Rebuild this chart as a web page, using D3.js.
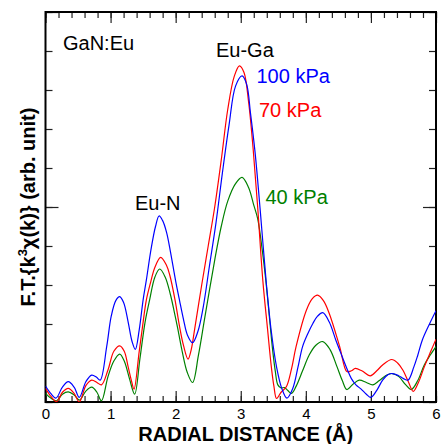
<!DOCTYPE html>
<head>
    <meta charset="utf-8">
    <style> body { margin: 0; background: #fff; } text { font-family: "Liberation Sans", Arial, sans-serif; } </style>
    <script src="https://d3js.org/d3.v7.min.js"></script>
</head>
<body>
<div id="chart"></div>
<script>

// radial distance (Å), F.T. magnitude (arb. unit)
var kpa100 = [[0,0.41],[0.08,0.22],[0.16,0.10],[0.26,0.38],[0.35,0.52],[0.44,0.38],[0.52,0.12],[0.62,0.52],[0.71,0.69],[0.78,0.64],[0.84,0.56],
    [0.94,1.42],[1.01,2.2],[1.08,2.6],[1.14,2.70],[1.20,2.55],[1.27,2.05],[1.33,1.55],[1.38,1.35],[1.44,1.85],[1.50,2.62],[1.55,3.13],[1.62,3.9],
    [1.69,4.5],[1.745,4.77],[1.80,4.65],[1.86,4.35],[1.92,3.85],[2.00,3.1],[2.06,2.6],[2.12,2.12],[2.18,1.72],[2.26,1.52],[2.34,1.8],[2.42,2.4],[2.52,3.5],
    [2.62,4.6],[2.72,5.9],[2.82,7.1],[2.92,8.1],[3.02,8.36],[3.09,8.15],[3.15,7.4],[3.22,6.4],[3.30,4.9],[3.39,3.1],[3.47,1.8],[3.55,0.9],
    [3.63,0.35],[3.71,0.10],[3.80,0.35],[3.88,0.9],[3.95,1.42],[4.03,1.75],[4.11,2.02],[4.18,2.2],[4.26,2.29],[4.36,2.05],[4.46,1.59],
    [4.55,1.2],[4.63,0.86],[4.70,0.6],[4.77,0.44],[4.85,0.33],[4.93,0.2],[5.00,0.12],[5.09,0.3],[5.18,0.56],[5.26,0.7],[5.33,0.73],
    [5.42,0.68],[5.50,0.6],[5.57,0.56],[5.66,0.9],[5.72,1.2],[5.79,1.59],[5.90,2.0],[6.0,2.34]];

var kpa70 = [[0,0.35],[0.08,0.15],[0.17,0.01],[0.26,0.25],[0.35,0.35],[0.44,0.22],[0.52,0.0],[0.62,0.42],[0.71,0.56],[0.79,0.50],[0.86,0.44],
    [0.96,0.82],[1.05,1.3],[1.14,1.44],[1.21,1.3],[1.27,0.9],[1.32,0.55],[1.36,0.33],[1.44,1.3],[1.50,2.05],[1.55,2.62],[1.62,3.1],[1.68,3.45],
    [1.77,3.71],[1.86,3.5],[1.91,3.25],[1.99,2.62],[2.06,1.93],[2.12,1.45],[2.19,1.1],[2.24,1.35],[2.29,1.85],[2.40,3.0],[2.50,4.0],[2.60,5.0],
    [2.70,6.2],[2.80,7.5],[2.90,8.35],[2.98,8.62],[3.05,8.45],[3.12,7.7],[3.19,6.5],[3.26,5.0],[3.34,3.1],[3.41,1.9],[3.47,0.9],[3.51,0.4],
    [3.55,0.09],[3.62,0.25],[3.70,0.39],[3.78,0.85],[3.85,1.42],[4.01,2.36],[4.10,2.65],[4.18,2.74],[4.27,2.6],[4.36,2.27],[4.52,1.42],
    [4.63,0.78],[4.70,0.8],[4.76,0.86],[4.86,0.8],[4.99,0.67],[5.09,0.8],[5.18,0.95],[5.32,1.09],[5.41,1.0],[5.49,0.82],[5.58,0.5],
    [5.65,0.27],[5.73,0.5],[5.82,0.9],[5.92,1.3],[6.0,1.61]];

var kpa40 = [[0,0.22],[0.08,0.1],[0.17,0.03],[0.26,0.2],[0.35,0.26],[0.44,0.18],[0.52,0.05],[0.62,0.28],[0.71,0.38],[0.79,0.25],[0.86,0.03],
    [0.96,0.65],[1.05,1.05],[1.14,1.23],[1.21,1.05],[1.29,0.6],[1.37,0.2],[1.45,1.1],[1.53,2.05],[1.60,2.62],[1.68,3.2],[1.755,3.41],
    [1.84,3.2],[1.92,2.75],[1.98,2.3],[2.03,1.9],[2.10,1.3],[2.18,0.75],[2.26,0.5],[2.35,1.2],[2.45,2.19],[2.60,3.64],[2.70,4.5],[2.80,5.15],
    [2.92,5.6],[3.02,5.76],[3.12,5.5],[3.20,5.05],[3.26,4.7],[3.33,3.9],[3.39,3.04],[3.45,2.0],[3.49,1.33],[3.53,0.8],[3.57,0.44],[3.62,0.36],
    [3.67,0.37],[3.72,0.3],[3.78,0.22],[3.85,0.4],[3.95,0.8],[4.05,1.2],[4.15,1.45],[4.26,1.55],[4.37,1.35],[4.48,0.9],[4.56,0.55],
    [4.63,0.32],[4.72,0.45],[4.82,0.56],[4.93,0.5],[5.03,0.44],[5.13,0.55],[5.23,0.68],[5.33,0.73],[5.43,0.65],[5.53,0.45],[5.62,0.32],
    [5.72,0.55],[5.82,0.95],[5.91,1.2],[6.0,1.42]];

var xMajor = [0, 1, 2, 3, 4, 5, 6];
var xMinor = d3.range(0, 6.01, 0.2);
var yMajor = [0, 5, 10];
var yMinor = d3.range(0, 11, 1);

var W = 441, H = 444;
var margin = {top: 12, right: 5, bottom: 42, left: 45.5};

var svg = d3.select("#chart").append("svg")
    .attr("width", W)
    .attr("height", H);

var x = d3.scaleLinear().domain([0, 6]).range([margin.left, W - margin.right]);
var y = d3.scaleLinear().domain([0, 10]).range([H - margin.bottom, margin.top]);

svg.append("clipPath").attr("id", "clip")
    .append("rect")
    .attr("x", x(0)).attr("y", y(10))
    .attr("width", x(6) - x(0)).attr("height", y(0) - y(10));

// ticks, all pointing inward
function ticks(axis, vals, size, transform, labels) {
    var g = svg.append("g")
        .attr("transform", transform)
        .call(axis.tickValues(vals).tickSize(-size).tickPadding(6).tickFormat(labels ? d3.format("d") : ""));
    g.select(".domain").remove();
    g.selectAll("line").attr("stroke", "#222").attr("stroke-width", 1.2);
    return g;
}

ticks(d3.axisBottom(x), xMinor, 6, "translate(0," + y(0) + ")");
var xl = ticks(d3.axisBottom(x), xMajor, 11, "translate(0," + y(0) + ")", true);
xl.selectAll("text").attr("font-size", 15).attr("fill", "#000").attr("font-family", "Liberation Sans, Arial, sans-serif");
ticks(d3.axisTop(x), xMinor, 6, "translate(0," + y(10) + ")");
ticks(d3.axisTop(x), xMajor, 11, "translate(0," + y(10) + ")");
ticks(d3.axisLeft(y), yMinor, 7, "translate(" + x(0) + ",0)");
ticks(d3.axisLeft(y), yMajor, 13, "translate(" + x(0) + ",0)");
ticks(d3.axisRight(y), yMinor, 7, "translate(" + x(6) + ",0)");
ticks(d3.axisRight(y), yMajor, 13, "translate(" + x(6) + ",0)");

svg.append("rect")
    .attr("x", x(0)).attr("y", y(10))
    .attr("width", x(6) - x(0)).attr("height", y(0) - y(10))
    .attr("fill", "none").attr("stroke", "#000").attr("stroke-width", 2);

var line = d3.line()
    .curve(d3.curveCatmullRom.alpha(0.5))
    .x(d => x(d[0]))
    .y(d => y(d[1]));

var lines = svg.append("g").attr("clip-path", "url(#clip)");

function addLine(data, col) {
    lines.append("path")
        .datum(data)
        .attr("fill", "none")
        .attr("stroke", col)
        .attr("stroke-width", 1.2)
        .attr("stroke-linejoin", "round")
        .attr("d", line);
}

addLine(kpa40, "#008000");
addLine(kpa70, "#ff0000");
addLine(kpa100, "#0000ff");

function label(txt, px, py, col) {
    svg.append("text")
        .attr("x", px).attr("y", py)
        .attr("font-size", 20)
        .attr("fill", col)
        .text(txt);
}

label("GaN:Eu", 63, 49.5, "#000");
label("Eu-Ga", 216, 57, "#000");
label("100 kPa", 256.5, 83, "#0000ff");
label("70 kPa", 259, 117, "#ff0000");
label("Eu-N", 135, 209.5, "#000");
label("40 kPa", 265.5, 203.5, "#008000");

svg.append("text")
    .attr("x", (x(0) + x(6)) / 2 + 5).attr("y", 441)
    .attr("text-anchor", "middle")
    .attr("font-size", 20)
    .attr("font-weight", "bold")
    .text("RADIAL DISTANCE (Å)");

var yl = svg.append("text")
    .attr("transform", "translate(35," + (y(5)) + ") rotate(-90)")
    .attr("text-anchor", "middle")
    .attr("font-size", 20)
    .attr("font-weight", "bold");
yl.append("tspan").text("F.T.{k");
yl.append("tspan").attr("font-size", 13).attr("dy", -8).text("3");
yl.append("tspan").attr("dy", 8).text("χ(k)} (arb. unit)");

</script>
</body>
